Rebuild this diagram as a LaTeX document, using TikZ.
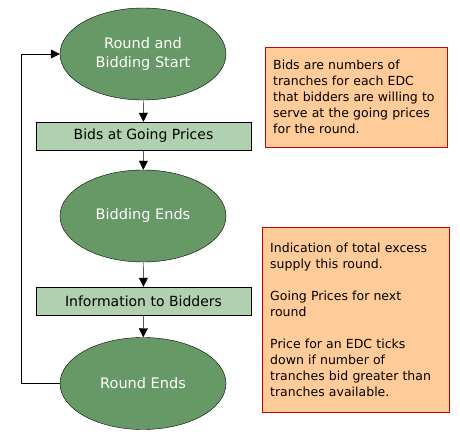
\documentclass[tikz,border=0pt]{standalone}
\usepackage{fontspec}
\usepackage{xcolor}
\setmainfont{DejaVu Sans}
\usetikzlibrary{shapes.geometric,arrows.meta,positioning}
\definecolor{stepgreen}{HTML}{669966}
\definecolor{boxgreen}{HTML}{B0D0B0}
\definecolor{notefill}{HTML}{FFCC99}
\definecolor{noteline}{HTML}{CC0000}
\tikzset{
    stage/.style = {draw=black, fill=stepgreen, ellipse, minimum width=166pt, minimum height=92pt, inner sep=0pt, text=white, align=center, font=\fontsize{14.5}{19}\selectfont},
    action/.style = {draw=black, fill=boxgreen, rectangle, minimum width=215pt, minimum height=28pt, inner sep=0pt, font=\fontsize{14}{16}\selectfont},
    note/.style = {draw=noteline, fill=notefill, rectangle, anchor=north west, inner xsep=8pt, inner ysep=0pt, align=left, font=\fontsize{12.5}{16}\selectfont},
    flow/.style = {-{Triangle[width=9pt,length=9pt]}, black},
}

\begin{document}
\begin{tikzpicture}[x=1pt,y=-1pt]
\useasboundingbox (0,0) rectangle (460,435);
\node [stage] (start) at (143,54) {Round and\\Bidding Start};
\node [action] (bids) at (143.5,136) {Bids at Going Prices};
\node [stage] (ends) at (143,216) {Bidding Ends};
\node [action] (info) at (143.5,301) {Information to Bidders};
\node [stage] (round) at (143,383.5) {Round Ends};
\coordinate (corner) at (21,0);

\draw [flow] (start) -- (bids);
\draw [flow] (bids) -- (ends);
\draw [flow] (ends) -- (info);
\draw [flow] (info) -- (round);
\draw [flow] (round.west) -| (corner |- start.west) -- (start.west);

% notes
\node [note, minimum width=182pt, minimum height=100pt, text width=166pt] (bidnote) at (265,47) {Bids are numbers of\\tranches for each EDC\\that bidders are willing to\\serve at the going prices\\for the round.\par\vspace*{5.7pt}};
\node [note, minimum width=187pt, minimum height=185pt, text width=171pt] (infonote) at (262,227) {Indication of total excess\\supply this round.\\[16pt]Going Prices for next\\round\\[16pt]Price for an EDC ticks\\down if number of\\tranches bid greater than\\tranches available.\par\vspace*{10.7pt}};
\end{tikzpicture}
\end{document}
